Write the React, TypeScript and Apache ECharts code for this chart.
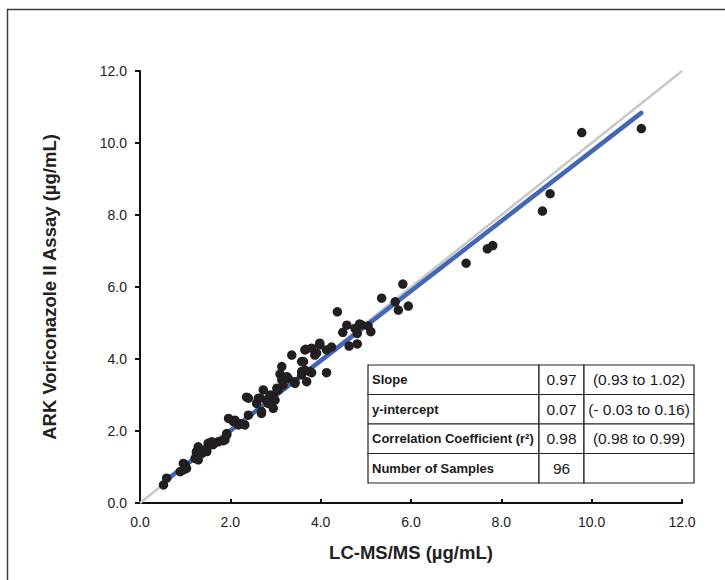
import React, { useEffect, useRef } from "react";
import * as echarts from "echarts";

const lcmsValues = [
  0.52, 0.59, 0.89, 0.96, 1.03, 0.96, 1.0, 1.22, 1.25, 1.25, 1.29, 1.37, 1.48, 1.48, 1.51, 1.59,
  1.73, 1.84, 1.88, 1.92, 1.92, 1.96, 2.07, 2.1, 2.18, 2.21, 2.32, 2.4, 2.36, 2.4, 2.58, 2.62,
  2.66, 2.69, 2.69, 2.73, 2.8, 2.84, 2.88, 2.95, 2.95, 2.99, 3.03, 3.06, 3.1, 3.14, 3.14, 3.17,
  3.25, 3.28, 3.36, 3.43, 3.43, 3.58, 3.58, 3.58, 3.62, 3.65, 3.65, 3.67, 3.69, 3.76, 3.8, 3.8,
  3.87, 3.91, 3.98, 3.98, 4.13, 4.13, 4.24, 4.37, 4.49, 4.58, 4.63, 4.76, 4.81, 4.81, 4.86, 4.9,
  5.05, 5.11, 5.35, 5.65, 5.72, 5.82, 5.94, 7.22, 7.69, 7.81, 8.91, 9.08, 9.78, 11.1, 1.29, 1.62,
];
const arkValues = [
  0.5, 0.69, 0.87, 0.92, 0.96, 1.1, 1.06, 1.24, 1.38, 1.43, 1.56, 1.38, 1.43, 1.52, 1.66, 1.7,
  1.7, 1.73, 1.75, 1.89, 1.93, 2.35, 2.26, 2.3, 2.17, 2.21, 2.17, 2.44, 2.94, 2.91, 2.77, 2.91,
  2.91, 2.49, 2.54, 3.14, 2.86, 2.77, 3.0, 2.63, 3.0, 2.86, 3.19, 3.14, 3.58, 3.42, 3.79, 3.28,
  3.51, 3.46, 4.11, 3.32, 3.37, 3.56, 3.65, 3.93, 3.93, 3.69, 4.25, 4.27, 3.37, 3.65, 3.62, 4.3,
  4.11, 4.16, 4.44, 4.39, 3.62, 4.25, 4.33, 5.31, 4.74, 4.94, 4.36, 4.85, 4.42, 4.71, 4.97, 4.95,
  4.92, 4.76, 5.69, 5.59, 5.36, 6.08, 5.47, 6.66, 7.06, 7.15, 8.11, 8.59, 10.29, 10.4, 1.2, 1.62,
];

const axisTicks = [0, 2, 4, 6, 8, 10, 12];
const identityLine = [
  [0, 0],
  [12, 12],
];
const fitSlope = 0.97;
const fitIntercept = 0.07;
const fitRange = [0.52, 11.1];

const tableLabels = ["Slope", "y-intercept", "Correlation Coefficient (r²)", "Number of Samples"];
const tableValues = ["0.97", "0.07", "0.98", "96"];
const tableRanges = ["(0.93 to 1.02)", "(- 0.03 to 0.16)", "(0.98 to 0.99)", ""];

const FONT = "'Liberation Sans', Arial, Helvetica, sans-serif";

export default function App() {
  const ref = useRef<HTMLDivElement>(null);

  useEffect(() => {
    if (!ref.current) return;
    const chart = echarts.init(ref.current, undefined, { renderer: "svg" });

    const points = lcmsValues.map((x, i) => [x, arkValues[i]]);
    const fitLine = fitRange.map((x) => [x, fitSlope * x + fitIntercept]);

    // table layout (pixels)
    const colX = [368, 539, 584, 694];
    const rowY = [365, 394.5, 424, 453.5, 483];
    const graphics: any[] = [
      {
        type: "rect",
        shape: { x: 7.5, y: 9.5, width: 800, height: 800 },
        style: { fill: "none", stroke: "#3c3c3c", lineWidth: 1.5 },
        silent: true,
        z: 0,
      },
    ];
    for (let r = 0; r < 4; r++) {
      for (let c = 0; c < 3; c++) {
        graphics.push({
          type: "rect",
          shape: {
            x: colX[c],
            y: rowY[r],
            width: colX[c + 1] - colX[c],
            height: rowY[r + 1] - rowY[r],
          },
          style: { fill: "#ffffff", stroke: "#222222", lineWidth: 1.2 },
          z: 10,
        });
      }
      const cy = (rowY[r] + rowY[r + 1]) / 2;
      graphics.push({
        type: "text",
        x: colX[0] + 4,
        y: cy,
        style: {
          text: tableLabels[r],
          font: `bold 13px ${FONT}`,
          fill: "#1a1a1a",
          textAlign: "left",
          textVerticalAlign: "middle",
        },
        z: 11,
      });
      graphics.push({
        type: "text",
        x: (colX[1] + colX[2]) / 2,
        y: cy,
        style: {
          text: tableValues[r],
          font: `15.5px ${FONT}`,
          fill: "#1a1a1a",
          textAlign: "center",
          textVerticalAlign: "middle",
        },
        z: 11,
      });
      if (tableRanges[r]) {
        graphics.push({
          type: "text",
          x: (colX[2] + colX[3]) / 2,
          y: cy,
          style: {
            text: tableRanges[r],
            font: `15.5px ${FONT}`,
            fill: "#1a1a1a",
            textAlign: "center",
            textVerticalAlign: "middle",
          },
          z: 11,
        });
      }
    }

    const axisCommon = {
      type: "value" as const,
      min: axisTicks[0],
      max: axisTicks[axisTicks.length - 1],
      interval: axisTicks[1] - axisTicks[0],
      splitLine: { show: false },
      axisLine: { show: true, onZero: false, lineStyle: { color: "#111", width: 2 } },
      axisLabel: {
        color: "#222",
        fontSize: 14,
        fontFamily: FONT,
        formatter: (v: number) => v.toFixed(1),
      },
    };

    chart.setOption({
      animation: false,
      backgroundColor: "#ffffff",
      grid: { left: 140, right: 43, top: 71, bottom: 77, outerBoundsMode: "none" },
      xAxis: {
        ...axisCommon,
        axisTick: { show: true, inside: true, length: 4, lineStyle: { color: "#111", width: 2 } },
        axisLabel: { ...axisCommon.axisLabel, margin: 12 },
        name: "LC-MS/MS (µg/mL)",
        nameLocation: "middle",
        nameGap: 40,
        nameTextStyle: {
          fontSize: 18.5,
          fontWeight: "bold",
          fontFamily: FONT,
          color: "#222",
        },
      },
      yAxis: {
        ...axisCommon,
        axisTick: { show: true, inside: false, length: 5, lineStyle: { color: "#111", width: 2 } },
        axisLabel: { ...axisCommon.axisLabel, margin: 13 },
        name: "ARK Voriconazole II Assay (µg/mL)",
        nameLocation: "middle",
        nameGap: 81,
        nameTextStyle: {
          fontSize: 18.5,
          fontWeight: "bold",
          fontFamily: FONT,
          color: "#222",
        },
      },
      series: [
        {
          type: "line",
          data: identityLine,
          symbol: "none",
          lineStyle: { color: "#c8c8c8", width: 2.5 },
          z: 1,
          silent: true,
        },
        {
          type: "line",
          data: fitLine,
          symbol: "none",
          lineStyle: { color: "#4467b5", width: 4.5, cap: "round" },
          z: 2,
          silent: true,
        },
        {
          type: "scatter",
          data: points,
          symbolSize: 9.5,
          itemStyle: { color: "#231f20", opacity: 1 },
          z: 3,
        },
      ],
      graphic: graphics,
    });

    return () => chart.dispose();
  }, []);

  return (
    <div
      ref={ref}
      style={{ position: "fixed", left: 0, top: 0, width: 725, height: 580 }}
    />
  );
}
